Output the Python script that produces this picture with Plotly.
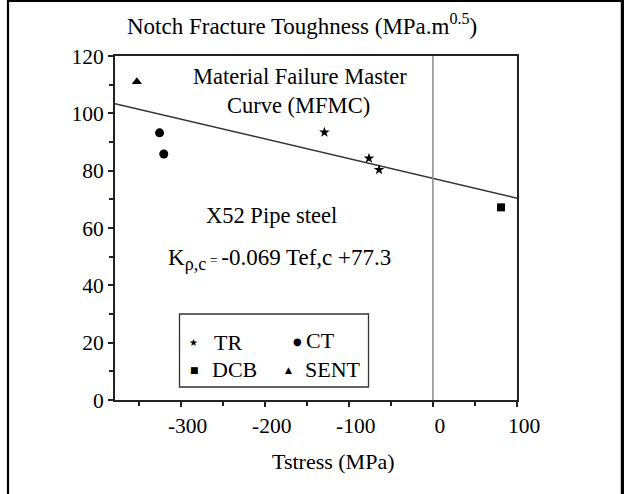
import plotly.graph_objects as go

# Notch fracture toughness vs T-stress for X52 pipe steel, by specimen type
tr_t = [-129, -76, -64]
tr_k = [93.4, 84.3, 80.3]
ct_t = [-325, -320]
ct_k = [93.2, 85.8]
dcb_t = [81]
dcb_k = [67.2]
sent_t = [-352]
sent_k = [111.0]

# Material Failure Master Curve: K = slope * Tef + intercept
mfmc_slope = -0.069
mfmc_intercept = 77.3
mfmc_t = [-378, 100]

x_ticks = [-300, -200, -100, 0, 100]
y_ticks = [0, 20, 40, 60, 80, 100, 120]

FONT = "Liberation Serif"
INK = "#222222"

# plot-area box in pixels, used to place free text in paper coordinates
PL, PR, PT, PB = 115, 517, 56, 400


def px(x):
    return (x - PL) / (PR - PL)


def py(y):
    return (PB - y) / (PB - PT)


fig = go.Figure()

mfmc_k = [mfmc_slope * t + mfmc_intercept for t in mfmc_t]
fig.add_trace(go.Scatter(x=mfmc_t, y=mfmc_k, mode="lines",
                         line=dict(color="#333333", width=1.5), showlegend=False))

series = [
    ("TR", tr_t, tr_k, "star", 8),
    ("CT", ct_t, ct_k, "circle", 9),
    ("DCB", dcb_t, dcb_k, "square", 8),
    ("SENT", sent_t, sent_k, "triangle-up", 9),
]
for name, xs, ys, sym, size in series:
    fig.add_trace(go.Scatter(x=xs, y=ys, mode="markers", name=name,
                             marker=dict(symbol=sym, size=size, color="black"),
                             showlegend=False))

shapes = [
    # T = 0 reference line
    dict(type="line", xref="x", yref="paper", x0=0, x1=0, y0=0, y1=1,
         line=dict(color="#8c8c8c", width=1.5)),
    # legend frame
    dict(type="rect", xref="paper", yref="paper",
         x0=px(179.5), x1=px(368.5), y0=py(387), y1=py(314),
         line=dict(color="#333333", width=1.3), fillcolor="white"),
    # outer frame of the figure
    dict(type="line", xref="paper", yref="paper", x0=px(8), x1=px(8),
         y0=py(0), y1=py(494), line=dict(color="black", width=2.2)),
    dict(type="line", xref="paper", yref="paper", x0=px(7), x1=px(624),
         y0=py(1), y1=py(1), line=dict(color="black", width=2.2)),
    dict(type="line", xref="paper", yref="paper", x0=px(622.5), x1=px(622.5),
         y0=py(0), y1=py(494), line=dict(color="black", width=3.4)),
]


def label(text, x, y, size=22, xanchor="center", family=FONT):
    return dict(text=text, x=px(x), y=py(y), xref="paper", yref="paper",
                xanchor=xanchor, yanchor="middle", showarrow=False,
                font=dict(family=family, size=size, color="black"))


eq_text = (f"K<span style='font-size:26px'><sub>ρ,c</sub></span>"
           f"<span style='font-size:14px'> = </span>"
           f"{mfmc_slope:.3f} Tef,c +{mfmc_intercept:.1f}")

annotations = [
    label("Notch Fracture Toughness (MPa.m<sup>0.5</sup>)", 302, 24, size=23),
    label("Material Failure Master", 300, 76, size=22.5),
    label("Curve (MFMC)", 298, 105, size=22.5),
    label("X52 Pipe steel", 271.5, 215, size=22.5),
    label(eq_text, 166, 259, size=23, xanchor="left"),
    label("Tstress (MPa)", 333, 461),
    # legend entries
    label("★", 193.5, 342, size=10, family="DejaVu Sans"),
    label("TR", 212, 342, xanchor="left"),
    label("●", 297, 341, size=10, family="DejaVu Sans"),
    label("CT", 304, 340, xanchor="left"),
    label("■", 194.5, 370, size=9, family="DejaVu Sans"),
    label("DCB", 210, 369, xanchor="left"),
    label("▲", 288, 370, size=9, family="DejaVu Sans"),
    label("SENT", 303, 369, xanchor="left"),
]

axis_common = dict(
    showgrid=False, zeroline=False, showline=True, linecolor=INK, linewidth=2,
    mirror=True, ticks="outside", ticklen=5, tickwidth=1.5, tickcolor=INK,
    tickfont=dict(family=FONT, size=21.5, color="black"),
)

fig.update_xaxes(range=[-378, 100], tickmode="array", tickvals=x_ticks,
                 ticktext=[str(v) for v in x_ticks], ticklabelshift=7,
                 minor=dict(tickmode="linear", tick0=0, dtick=50, ticks="outside",
                            ticklen=4, tickwidth=1.5, tickcolor=INK),
                 **axis_common)
fig.update_yaxes(range=[0, 120], tickmode="array", tickvals=y_ticks,
                 ticktext=[str(v) for v in y_ticks],
                 minor=dict(tickmode="linear", tick0=0, dtick=10, ticks="outside",
                            ticklen=4, tickwidth=1.5, tickcolor=INK),
                 **axis_common)

fig.update_layout(
    width=624, height=494,
    margin=dict(l=PL, r=624 - PR, t=PT, b=494 - PB),
    paper_bgcolor="white", plot_bgcolor="white",
    font=dict(family=FONT, color="black"),
    shapes=shapes, annotations=annotations, showlegend=False,
)

fig.write_html("out.html")
